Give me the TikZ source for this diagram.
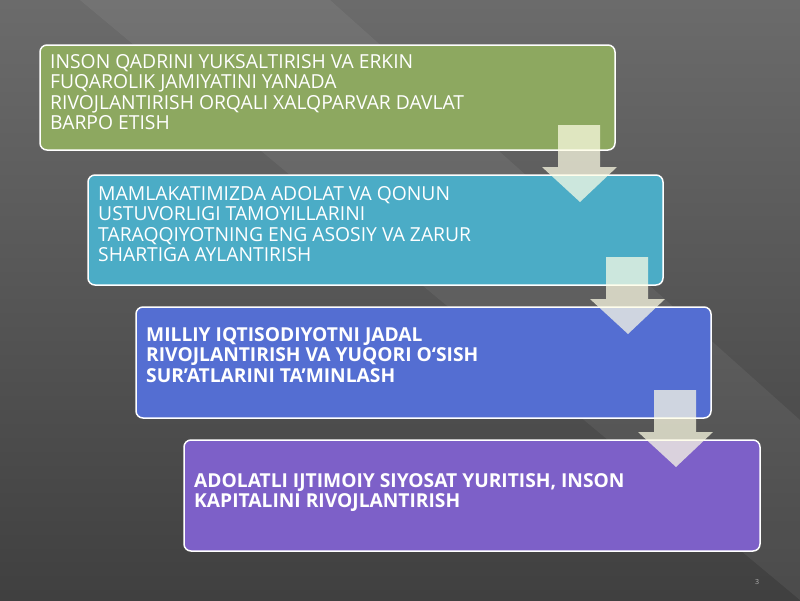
\documentclass[tikz,border=0pt]{standalone}
\usepackage{fontspec}
\setmainfont{Open Sans}
\begin{document}
\begin{tikzpicture}[x=1pt,y=-1pt,
 bx/.style={draw=white,line width=1.5pt,rounded corners=7pt},
 tx/.style={anchor=north west,align=left,text=white,font=\fontsize{19.3}{20.5}\selectfont,inner sep=0pt},
 arr/.style={fill=white!90!yellow,fill opacity=0.72,draw=none}]
\shade[top color=black!58,bottom color=black!75] (0,0) rectangle (800,600);
\fill[white,opacity=0.06] (80,0) -- (330,0) -- (800,420) -- (800,600) -- cycle;
\useasboundingbox (0,0) rectangle (800,600);
\path[bx,fill={rgb,255:red,141;green,168;blue,96}] (40,45) rectangle (615,150);
\node[tx] (t1) at (50,54) {INSON QADRINI YUKSALTIRISH VA ERKIN\\FUQAROLIK JAMIYATINI YANADA\\RIVOJLANTIRISH ORQALI XALQPARVAR DAVLAT\\BARPO ETISH};
\path[bx,fill={rgb,255:red,75;green,172;blue,198}] (88,175) rectangle (663,285);
\node[tx] (t2) at (98,186) {MAMLAKATIMIZDA ADOLAT VA QONUN\\USTUVORLIGI TAMOYILLARINI\\TARAQQIYOTNING ENG ASOSIY VA ZARUR\\SHARTIGA AYLANTIRISH};
\path[bx,fill={rgb,255:red,84;green,110;blue,210}] (136,307) rectangle (711,418);
\node[tx,font=\bfseries\fontsize{19.2}{20.5}\selectfont] (t3) at (146,327) {MILLIY IQTISODIYOTNI JADAL\\RIVOJLANTIRISH VA YUQORI O‘SISH\\SUR’ATLARINI TA’MINLASH};
\path[bx,fill={rgb,255:red,125;green,96;blue,200}] (184,440) rectangle (760,551);
\node[tx,font=\bfseries\fontsize{19.2}{20.5}\selectfont] (t4) at (194,473) {ADOLATLI IJTIMOIY SIYOSAT YURITISH, INSON\\KAPITALINI RIVOJLANTIRISH};
\foreach \dx/\dy in {0/0,48/132,96/265}{
 \fill[arr,shift={(\dx,\dy)}] (558,125) -- (600,125) -- (600,167) -- (617,167) -- (580,202) -- (542,167) -- (558,167) -- cycle;}
\node[text=black!30,font=\fontsize{7}{8}\selectfont] (pg) at (757,582) {3};
\end{tikzpicture}
\end{document}
